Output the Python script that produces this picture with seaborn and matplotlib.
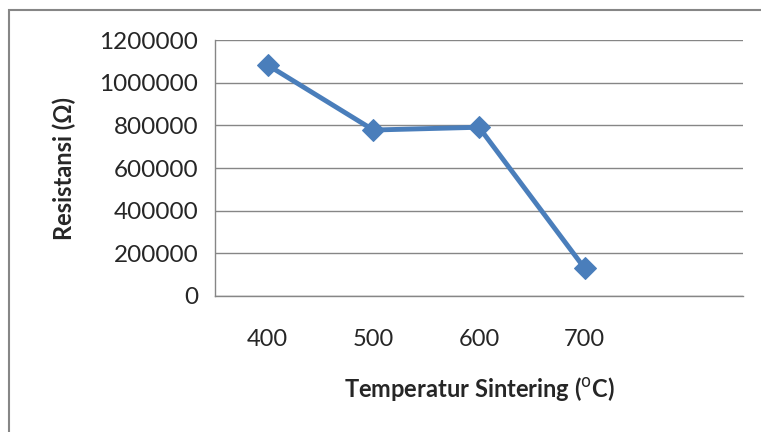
import matplotlib
matplotlib.use("Agg")
import matplotlib.pyplot as plt
from matplotlib.patches import Rectangle
import numpy as np
import pandas as pd
import seaborn as sns

temperatures = ["400", "500", "600", "700"]
resistance = [1082000, 778000, 791000, 130000]
n_slots = 5  # one empty category slot at the end, as in the reference
y_ticks = [0, 200000, 400000, 600000, 800000, 1000000, 1200000]

sns.set_style("white")
plt.rcParams["font.family"] = ["Lato", "DejaVu Sans"]

df = pd.DataFrame({"pos": np.arange(len(temperatures)), "val": resistance})

fig = plt.figure(figsize=(7.61, 4.32), dpi=100)
ax = fig.add_axes([215 / 761, 1 - 296 / 432, (743 - 215) / 761, (296 - 40) / 432])

sns.lineplot(data=df, x="pos", y="val", ax=ax, color="#4a7ebb", linewidth=3.5,
             marker="D", markersize=11, markeredgecolor="#4a7ebb")

grid_c = "#868686"
ax.set_xlim(-0.5, n_slots - 0.5)
ax.set_ylim(0, 1200000)
ax.set_yticks(y_ticks)
ax.set_yticklabels([str(v) for v in y_ticks])
ax.yaxis.grid(True, color=grid_c, linewidth=1)
ax.xaxis.grid(False)

ax.set_xticks(np.arange(-0.5, n_slots, 1))
ax.set_xticklabels([])
ax.set_xticks(np.arange(len(temperatures)), minor=True)
ax.set_xticklabels(temperatures, minor=True)
ax.tick_params(axis="x", which="major", direction="out", length=8, color=grid_c, width=1)
ax.tick_params(axis="x", which="minor", length=0, pad=24, labelsize=17)
ax.tick_params(axis="y", direction="out", length=6, color=grid_c, width=1, pad=6, labelsize=17.5)

for s in ["top", "right"]:
    ax.spines[s].set_visible(False)
for s in ["left", "bottom"]:
    ax.spines[s].set_color(grid_c)
    ax.spines[s].set_linewidth(1)

ax.set_xlabel("Temperatur Sintering ($^{\\mathrm{o}}$C)", fontsize=17, fontweight="bold", labelpad=18)
ax.set_ylabel("Resistansi (Ω)", fontsize=17, fontweight="bold", labelpad=17)

fig.patches.append(Rectangle((9 / 761, -0.02), 1.1, 1 - 10 / 432 + 0.02,
                             transform=fig.transFigure, fill=False,
                             edgecolor=grid_c, linewidth=1.5))

fig.savefig("out.png", dpi=100)
